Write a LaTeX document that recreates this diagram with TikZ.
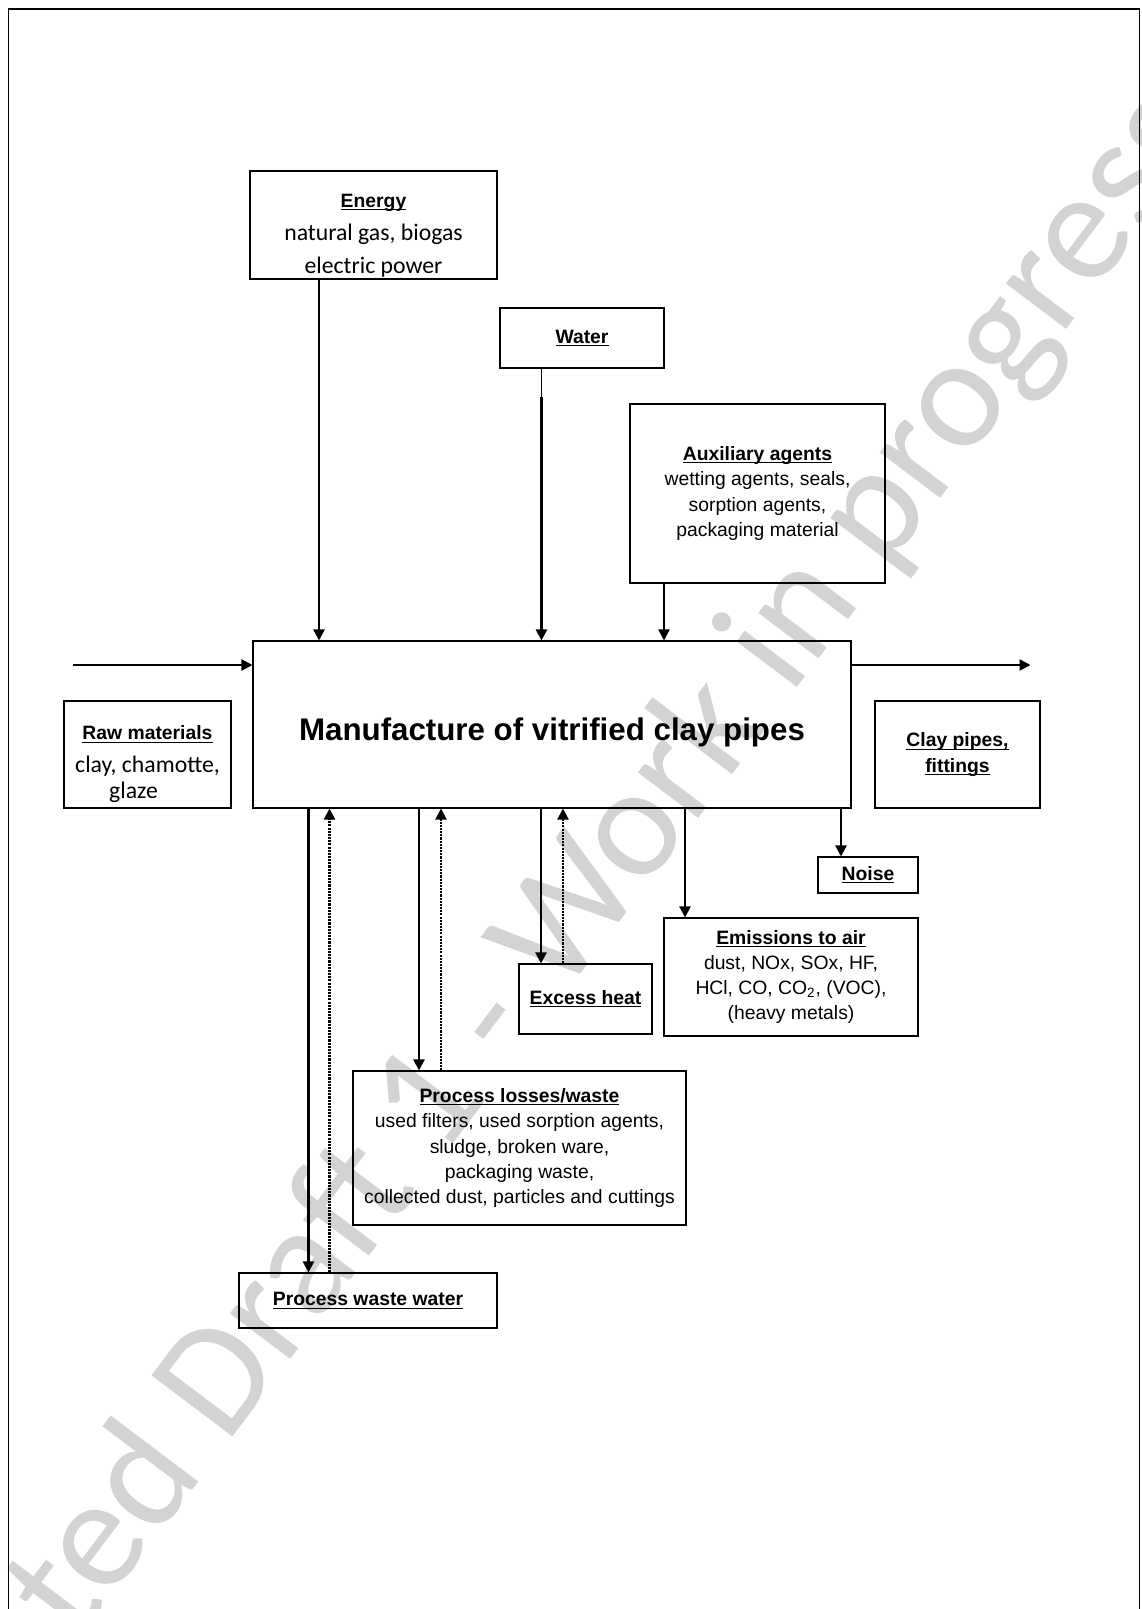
\documentclass[tikz,border=0pt]{standalone}
\usepackage{fontspec}
\setmainfont{Liberation Sans}
\newfontfamily\calfont{Carlito}
\usetikzlibrary{arrows.meta}
\definecolor{watermark}{HTML}{D3D3D3}
\newcommand{\ttl}[1]{\setbox0=\hbox{\bfseries #1}\rlap{\rule[-1.6pt]{\wd0}{0.6pt}}\box0}

\begin{document}
\begin{tikzpicture}[
  >={Triangle[length=0.22cm, width=0.22cm]},
  every node/.style={font=\fontsize{11}{14.4}\selectfont},
  item/.style={draw, line width=0.6pt, align=center, inner sep=0pt},
  edge/.style={->, line width=1.3pt},
  recycle/.style={->, line width=1.2pt, dash pattern=on 1.2pt off 0.6pt}
]
  \path[use as bounding box, fill=white] (0,0) rectangle (22.82,-32.18);
  \begin{scope}
    \clip (0,0) rectangle (22.82,-32.18);
    % draft watermark
    \node[rotate=53, anchor=base west, inner sep=0pt, text=watermark,
          font=\calfont\fontsize{90}{90}\selectfont] (mark) at (1.53,-32.88)
      {ted Draft 1 - Work in progress};
    % page frame
    \draw[line width=1.1pt] (0.17,-33) |- (22.79,-0.18) -- (22.79,-33);
  \end{scope}

  \node[item, minimum width=11.96cm, minimum height=3.34cm,
        font=\bfseries\fontsize{17.8}{21}\selectfont] (main) at (11.04,-14.49)
    {\raisebox{-0.15cm}[\height][\depth]{Manufacture of vitrified clay pipes}};

  % inputs
  \node[item, minimum width=4.94cm, minimum height=2.16cm] (energy) at (7.47,-4.50) {};
  \node[align=center, font=\calfont\fontsize{13.5}{18.8}\selectfont] (energytext)
    at ([yshift=-0.21cm]energy.center)
    {{\rmfamily\fontsize{11}{18.8}\selectfont\ttl{Energy}}\\natural gas, biogas\\electric power};
  \node[item, minimum width=3.28cm, minimum height=1.2cm] (water) at (11.64,-6.76) {\ttl{Water}};
  \node[item, minimum width=5.10cm, minimum height=3.58cm] (aux) at (15.15,-9.87)
    {\ttl{Auxiliary agents}\\wetting agents, seals,\\sorption agents,\\packaging material};
  \node[item, minimum width=3.34cm, minimum height=2.14cm] (raw) at (2.95,-15.09) {};
  \node[align=center, font=\calfont\fontsize{13.5}{14.8}\selectfont] (rawtext)
    at ([yshift=-0.2cm]raw.center)
    {{\rmfamily\fontsize{11}{14.8}\selectfont\ttl{Raw materials}}\\[0.14cm]clay, chamotte,\\glaze\hspace{0.56cm}\mbox{}};

  % outputs
  \node[item, minimum width=3.30cm, minimum height=2.14cm] (pipes) at (19.15,-15.09)
    {\ttl{Clay pipes,}\\\ttl{fittings}};
  \node[item, minimum width=2.00cm, minimum height=0.72cm] (noise) at (17.36,-17.50) {\ttl{Noise}};
  \node[item, minimum width=5.08cm, minimum height=2.36cm] (emissions) at (15.82,-19.54)
    {\ttl{Emissions to air}\\dust, NOx, SOx, HF,\\HCl, CO, CO\textsubscript{2}, (VOC),\\(heavy metals)};
  \node[item, minimum width=2.66cm, minimum height=1.40cm] (heat) at (11.71,-19.98) {\ttl{Excess heat}};
  \node[item, minimum width=6.66cm, minimum height=3.08cm] (losses) at (10.39,-22.96)
    {\ttl{Process losses/waste}\\used filters, used sorption agents,\\sludge, broken ware,\\packaging waste,\\collected dust, particles and cuttings};
  \node[item, minimum width=5.16cm, minimum height=1.10cm] (wastewater) at (7.36,-26.01)
    {\ttl{Process waste water}};

  % flows into the process
  \coordinate (energyout) at ([xshift=-1.09cm]energy.south);
  \draw[edge] (energyout) -- (energyout |- main.north);
  \coordinate (waterout) at ([xshift=-0.81cm]water.south);
  \draw[line width=0.5pt] (waterout) -- ++(0,-0.56) coordinate (waterbend);
  \draw[edge] (waterbend) -- (waterbend |- main.north);
  \coordinate (auxout) at ([xshift=-1.87cm]aux.south);
  \draw[edge] (auxout) -- (auxout |- main.north);
  \coordinate (rawin) at ([yshift=1.19cm]main.west);
  \draw[edge] ([xshift=-3.58cm]rawin) -- (rawin);
  \coordinate (pipesout) at ([yshift=1.19cm]main.east);
  \draw[edge] (pipesout) -- ([xshift=3.58cm]pipesout);

  % flows out of the process
  \coordinate (wwdown) at ([xshift=-4.87cm]main.south);
  \draw[edge] (wwdown) -- (wwdown |- wastewater.north);
  \coordinate (wwup) at ([xshift=-4.45cm]main.south);
  \draw[recycle] (wwup |- wastewater.north) -- (wwup);
  \coordinate (lossdown) at ([xshift=-2.66cm]main.south);
  \draw[edge] (lossdown) -- (lossdown |- losses.north);
  \coordinate (lossup) at ([xshift=-2.22cm]main.south);
  \draw[recycle] (lossup |- losses.north) -- (lossup);
  \coordinate (heatdown) at ([xshift=-0.22cm]main.south);
  \draw[edge] (heatdown) -- (heatdown |- heat.north);
  \coordinate (heatup) at ([xshift=0.22cm]main.south);
  \draw[recycle] (heatup |- heat.north) -- (heatup);
  \coordinate (airdown) at ([xshift=2.66cm]main.south);
  \draw[edge] (airdown) -- (airdown |- emissions.north);
  \coordinate (noisedown) at ([xshift=5.78cm]main.south);
  \draw[edge] (noisedown) -- (noisedown |- noise.north);
\end{tikzpicture}
\end{document}
